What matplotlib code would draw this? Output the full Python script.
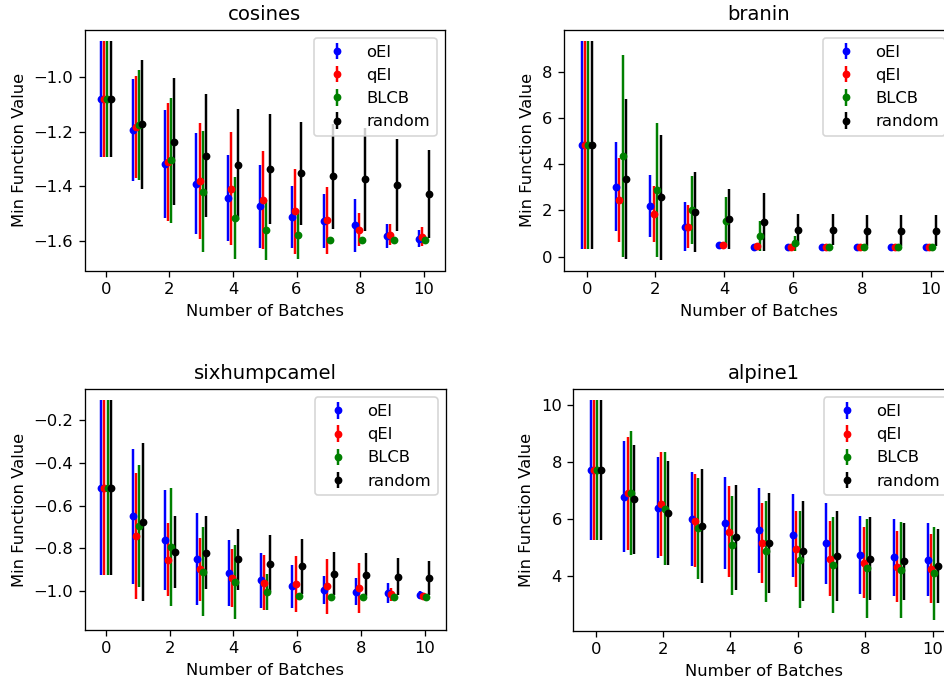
import numpy as np
import matplotlib.pyplot as plt

batches = np.arange(11)
methods = ['oEI', 'qEI', 'BLCB', 'random']
colors = ['blue', 'red', 'green', 'black']
offsets = [-0.15, -0.05, 0.05, 0.15]

# rows: oEI, qEI, BLCB, random
cosines_mean = [
    [-1.081, -1.195, -1.317, -1.390, -1.442, -1.473, -1.511, -1.528, -1.542, -1.581, -1.591],
    [-1.081, -1.183, -1.311, -1.381, -1.409, -1.450, -1.491, -1.525, -1.558, -1.577, -1.584],
    [-1.081, -1.177, -1.304, -1.419, -1.515, -1.559, -1.577, -1.598, -1.598, -1.598, -1.598],
    [-1.081, -1.173, -1.237, -1.288, -1.321, -1.336, -1.353, -1.364, -1.374, -1.396, -1.427],
]
cosines_err = [
    [0.213, 0.187, 0.198, 0.186, 0.158, 0.151, 0.113, 0.099, 0.097, 0.043, 0.031],
    [0.213, 0.187, 0.217, 0.212, 0.206, 0.179, 0.155, 0.123, 0.059, 0.039, 0.034],
    [0.213, 0.201, 0.229, 0.220, 0.150, 0.109, 0.089, 0.0, 0.0, 0.0, 0.0],
    [0.213, 0.236, 0.232, 0.224, 0.204, 0.202, 0.189, 0.191, 0.189, 0.168, 0.161],
]

branin_mean = [
    [4.85, 3.04, 2.20, 1.29, 0.49, 0.40, 0.40, 0.40, 0.40, 0.40, 0.40],
    [4.85, 2.44, 1.85, 1.30, 0.49, 0.46, 0.40, 0.40, 0.40, 0.40, 0.40],
    [4.85, 4.35, 2.90, 2.03, 1.54, 0.90, 0.57, 0.40, 0.40, 0.40, 0.40],
    [4.85, 3.37, 2.57, 1.94, 1.63, 1.49, 1.17, 1.16, 1.13, 1.13, 1.13],
]
branin_err = [
    [4.51, 1.94, 1.36, 1.06, 0.03, 0.02, 0.0, 0.0, 0.0, 0.0, 0.0],
    [4.51, 1.83, 1.20, 0.95, 0.03, 0.05, 0.0, 0.0, 0.0, 0.0, 0.0],
    [4.51, 4.39, 2.91, 1.48, 1.04, 0.65, 0.33, 0.0, 0.0, 0.0, 0.0],
    [4.51, 3.48, 2.71, 1.74, 1.32, 1.26, 0.67, 0.68, 0.66, 0.66, 0.66],
]

camel_mean = [
    [-0.516, -0.649, -0.763, -0.850, -0.916, -0.950, -0.978, -0.995, -1.003, -1.009, -1.019],
    [-0.516, -0.742, -0.853, -0.899, -0.940, -0.960, -0.968, -0.977, -0.986, -1.016, -1.022],
    [-0.516, -0.697, -0.794, -0.909, -0.958, -1.005, -1.023, -1.029, -1.029, -1.029, -1.029],
    [-0.516, -0.676, -0.817, -0.820, -0.851, -0.872, -0.884, -0.919, -0.923, -0.933, -0.940],
]
camel_err = [
    [0.409, 0.316, 0.234, 0.214, 0.154, 0.128, 0.101, 0.067, 0.063, 0.049, 0.019],
    [0.409, 0.294, 0.170, 0.149, 0.136, 0.130, 0.130, 0.129, 0.115, 0.032, 0.010],
    [0.409, 0.286, 0.274, 0.207, 0.173, 0.083, 0.015, 0.005, 0.0, 0.005, 0.0],
    [0.409, 0.371, 0.169, 0.169, 0.143, 0.133, 0.128, 0.101, 0.101, 0.087, 0.080],
]

alpine_mean = [
    [7.72, 6.79, 6.40, 6.00, 5.86, 5.61, 5.43, 5.15, 4.75, 4.66, 4.57],
    [7.72, 6.91, 6.53, 5.95, 5.55, 5.16, 4.95, 4.61, 4.47, 4.33, 4.26],
    [7.72, 6.93, 6.36, 5.68, 5.08, 4.87, 4.57, 4.39, 4.27, 4.22, 4.09],
    [7.72, 6.69, 6.22, 5.76, 5.36, 5.16, 4.88, 4.70, 4.61, 4.51, 4.34],
]
alpine_err = [
    [2.46, 1.96, 1.78, 1.64, 1.61, 1.49, 1.46, 1.43, 1.37, 1.36, 1.29],
    [2.46, 1.98, 1.82, 1.65, 1.60, 1.42, 1.35, 1.32, 1.25, 1.26, 1.22],
    [2.46, 2.18, 1.99, 1.78, 1.74, 1.77, 1.71, 1.70, 1.75, 1.69, 1.64],
    [2.46, 1.91, 1.82, 2.01, 1.85, 1.75, 1.75, 1.59, 1.46, 1.37, 1.30],
]

W, H = 944, 684
fig = plt.figure(figsize=(W / 118, H / 118), dpi=118)


def px_axes(left, right, top, bottom):
    return fig.add_axes([left / W, (H - bottom) / H, (right - left) / W, (bottom - top) / H])


panels = [
    ('cosines', cosines_mean, cosines_err, (84.6, 444.9, 30, 270.5)),
    ('branin', branin_mean, branin_err, (563.8, 953.6, 30, 270.7)),
    ('sixhumpcamel', camel_mean, camel_err, (84.8, 445.9, 389.3, 630)),
    ('alpine1', alpine_mean, alpine_err, (573.3, 955, 389.3, 631)),
]

for title, means, errs, box in panels:
    ax = px_axes(*box)
    for i in range(len(methods)):
        ax.errorbar(batches + offsets[i], means[i], yerr=errs[i], fmt='.',
                    markersize=7.5, color=colors[i], label=methods[i])
    ax.set_title(title)
    ax.set_xlabel('Number of Batches')
    ax.set_ylabel('Min Function Value')
    ax.legend(loc='upper right')

fig.savefig('out.png', dpi=118)
